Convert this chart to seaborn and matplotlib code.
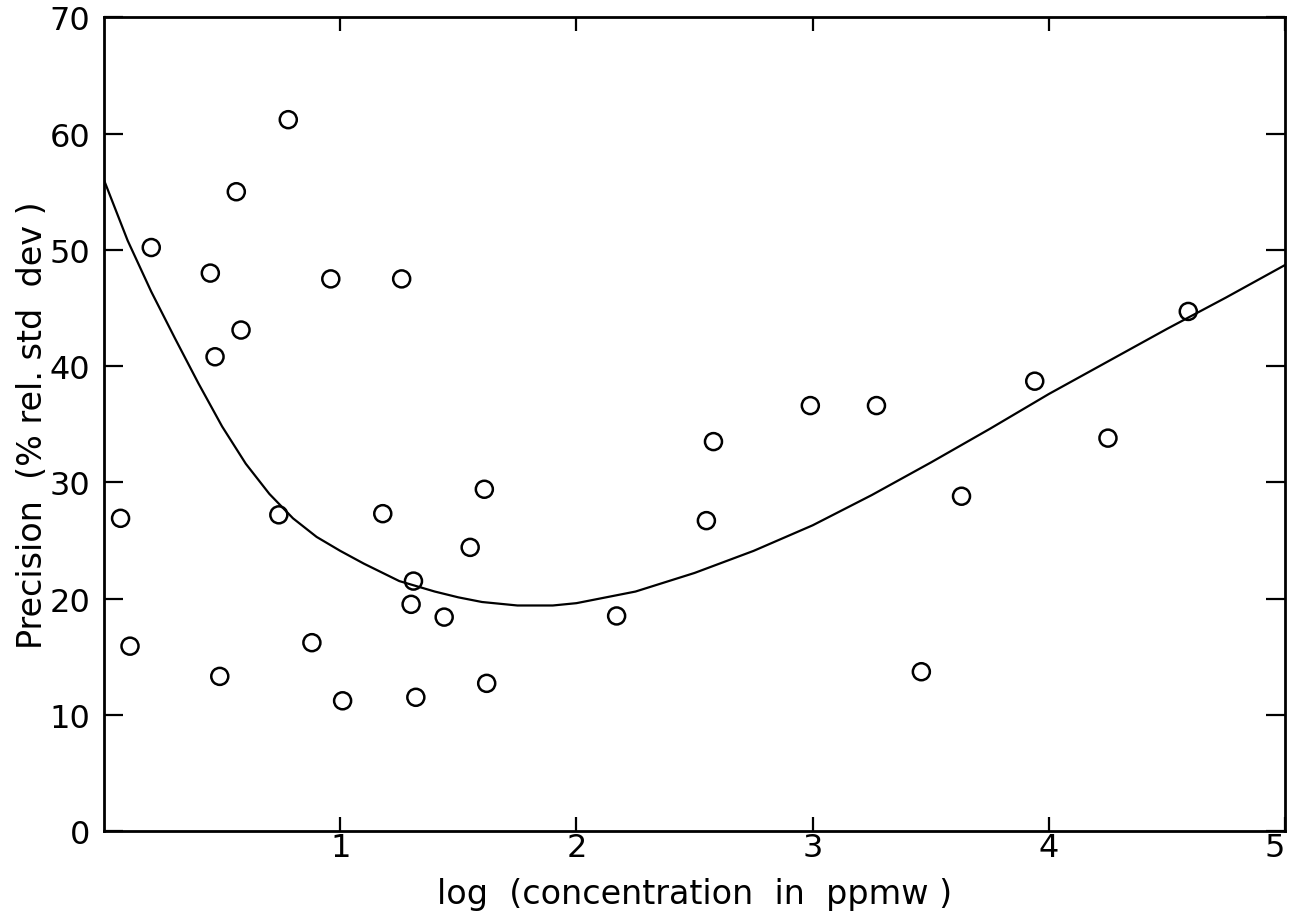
import matplotlib
matplotlib.use("Agg")
import matplotlib.pyplot as plt
import seaborn as sns
import pandas as pd

# Observed data points (log concentration, precision %)
log_conc = [0.07, 0.11, 0.20, 0.45, 0.47, 0.49, 0.56, 0.58, 0.74, 0.78,
            0.88, 0.96, 1.01, 1.18, 1.26, 1.31, 1.30, 1.32, 1.44, 1.55,
            1.61, 1.62, 2.17, 2.55, 2.58, 2.99, 3.27, 3.46, 3.63, 3.94,
            4.25, 4.59]
precision = [26.9, 15.9, 50.2, 48.0, 40.8, 13.3, 55.0, 43.1, 27.2, 61.2,
             16.2, 47.5, 11.2, 27.3, 47.5, 21.5, 19.5, 11.5, 18.4, 24.4,
             29.4, 12.7, 18.5, 26.7, 33.5, 36.6, 36.6, 13.7, 28.8, 38.7,
             33.8, 44.7]

# Fitted curve
curve_x = [0.0, 0.05, 0.1, 0.2, 0.3, 0.4, 0.5, 0.6, 0.7, 0.8, 0.9, 1.0,
           1.1, 1.25, 1.4, 1.5, 1.6, 1.75, 1.9, 2.0, 2.25, 2.5, 2.75,
           3.0, 3.25, 3.5, 3.75, 4.0, 4.25, 4.5, 4.75, 5.0]
curve_y = [56.0, 53.4, 50.8, 46.4, 42.4, 38.5, 34.8, 31.6, 29.0, 26.9,
           25.3, 24.1, 23.0, 21.5, 20.6, 20.1, 19.7, 19.4, 19.4, 19.6,
           20.6, 22.2, 24.1, 26.3, 28.9, 31.7, 34.6, 37.6, 40.4, 43.2,
           45.9, 48.7]

x_ticks = [1, 2, 3, 4, 5]
y_ticks = [0, 10, 20, 30, 40, 50, 60, 70]

sns.set_theme(style="white")
plt.rcParams['font.family'] = ['DejaVu Sans']

fig = plt.figure(figsize=(12.89, 9.2), dpi=100)
ax = fig.add_axes([0.0807, 0.0957, 0.9163, 0.8843])

pts = pd.DataFrame({"x": log_conc, "y": precision})
crv = pd.DataFrame({"x": curve_x, "y": curve_y})

sns.lineplot(data=crv, x="x", y="y", ax=ax, color="black", linewidth=1.6,
             sort=False, estimator=None)
sns.scatterplot(data=pts, x="x", y="y", ax=ax, marker="o", s=150,
                facecolor="none", edgecolor="black", linewidth=1.8, zorder=3)

ax.set_xlim(0, 5)
ax.set_ylim(0, 70)
ax.set_xticks(x_ticks)
ax.set_xticklabels([str(t) for t in x_ticks])
ax.set_yticks(y_ticks)
ax.set_yticklabels([str(t) for t in y_ticks])
ax.get_xticklabels()[-1].set_horizontalalignment("right")

for s in ax.spines.values():
    s.set_visible(True)
    s.set_color("black")
    s.set_linewidth(2.0)

ax.tick_params(axis="x", which="both", direction="in", length=10, width=1.6,
               labelsize=23, pad=1, colors="black", top=True, bottom=True)
ax.tick_params(axis="y", which="both", direction="in", length=14, width=1.6,
               labelsize=23, pad=10, colors="black", left=True, right=True)

ax.set_xlabel("log  (concentration  in  ppmw )", fontsize=24, labelpad=10,
              color="black")
ax.set_ylabel("Precision  (% rel. std  dev )", fontsize=24, labelpad=0,
              color="black")

fig.savefig("out.png", dpi=100)
